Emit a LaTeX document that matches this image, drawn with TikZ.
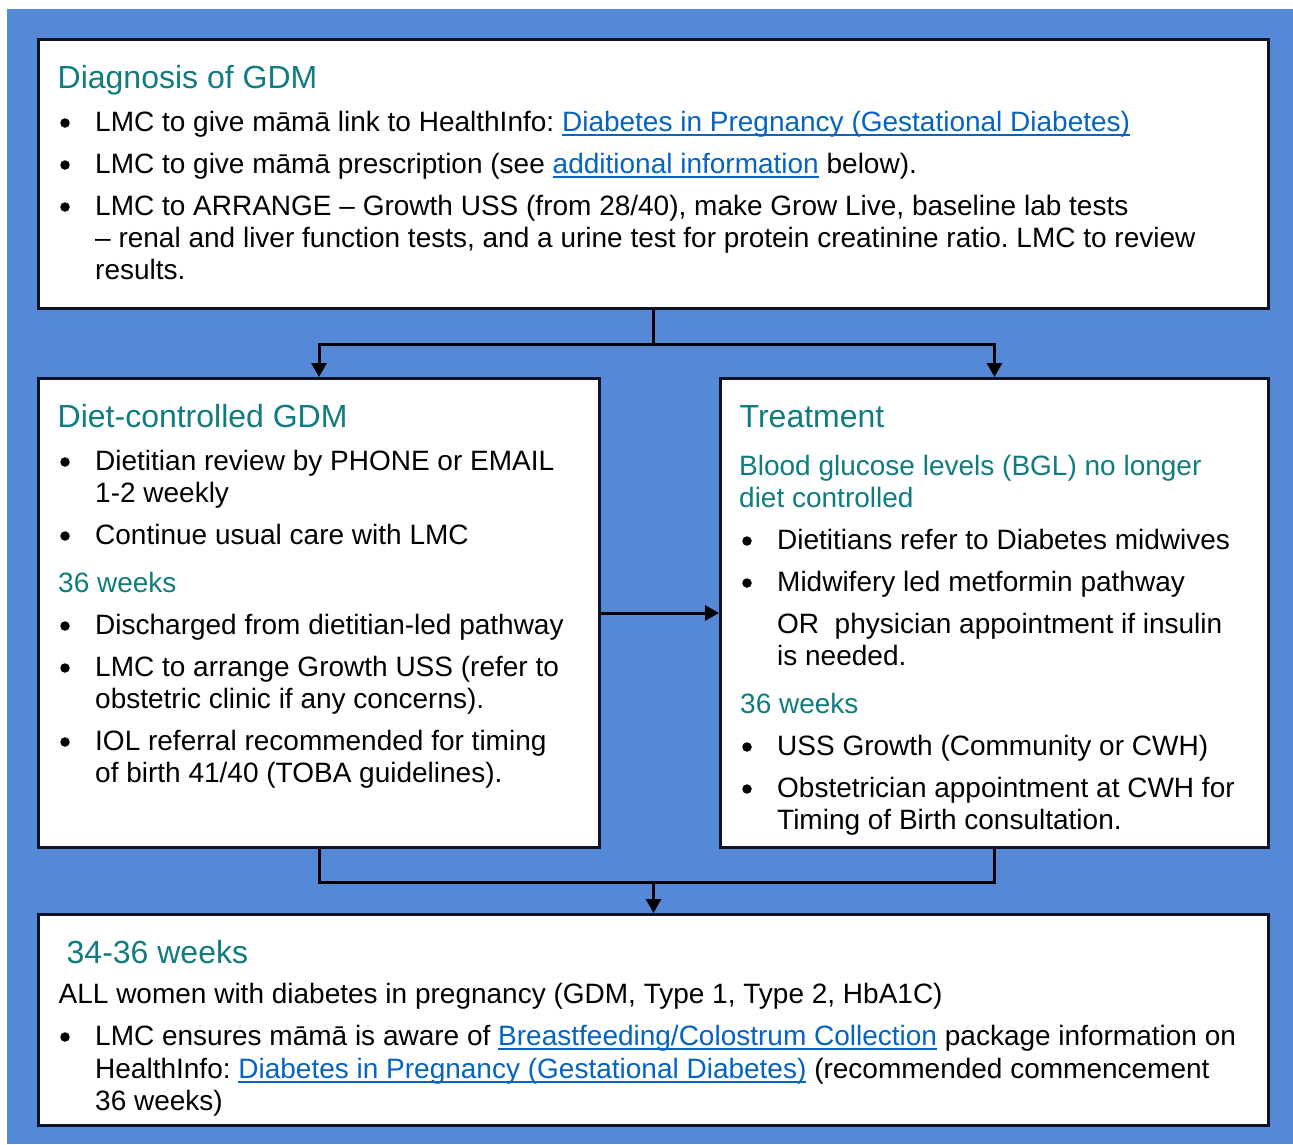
\documentclass[tikz,border=0pt]{standalone}
\usepackage{fontspec}
\setmainfont{Liberation Sans}
\usetikzlibrary{arrows.meta}
\definecolor{bgblue}{RGB}{85,136,214}
\definecolor{tealc}{RGB}{16,124,128}
\definecolor{linkc}{RGB}{5,99,193}
\definecolor{bordc}{RGB}{14,20,38}
\newcommand\mylink[1]{{\color{linkc}\setbox0=\hbox{#1}\rlap{\rule[-4.5pt]{\wd0}{2pt}}\box0}}
\frenchspacing
\begin{document}
\begin{tikzpicture}[x=1pt,y=-1pt,
  box/.style={draw=bordc, line width=3pt, fill=white, rectangle, inner sep=0pt},
  txt/.style={anchor=base west, inner sep=0pt, font=\fontsize{28}{32}\selectfont\frenchspacing},
  sub/.style={txt, text=tealc},
  ttl/.style={anchor=base west, inner sep=0pt, text=tealc, font=\fontsize{32}{37}\selectfont},
  bul/.style={circle, fill=black, inner sep=0pt, minimum size=9.5pt},
  conn/.style={line width=3pt, draw=black},
  arr/.style={conn, -{Triangle[width=15pt,length=14pt]}}]
\useasboundingbox (0,0) rectangle (1293,1144);
\fill[bgblue] (7,9) rectangle (1293,1144);

% boxes
\node[box, minimum width=1230pt, minimum height=269pt] (diag) at (653.5,174) {};
\node[box, minimum width=561pt, minimum height=469pt] (diet) at (319,613) {};
\node[box, minimum width=548pt, minimum height=469pt] (treat) at (994.5,613) {};
\node[box, minimum width=1230pt, minimum height=211pt] (all) at (653.5,1020) {};

% connectors
\draw[conn] (diag.south) -- ++(0,34) coordinate (split);
\draw[arr] (split) -| (diet.north);
\draw[arr] (split) -| (treat.north);
\draw[arr] (diet.east) -- (treat.west);
\draw[conn] (diet.south) -- ++(0,33) coordinate (mL) -| (treat.south);
\coordinate (merge) at (mL -| all.north);
\draw[arr] (merge) -- (all.north);

% Box 1
\node[ttl] (t1) at (57.5,88) {Diagnosis of GDM};
\node[bul] (b11) at (65,123) {};
\node[txt] (l11) at (95,131) {LMC to give māmā link to HealthInfo: \mylink{Diabetes in Pregnancy (Gestational Diabetes)}};
\node[bul] (b12) at (65,165) {};
\node[txt] (l12) at (95,173) {LMC to give māmā prescription (see \mylink{additional information} below).};
\node[bul] (b13) at (65,207) {};
\node[txt] (l13) at (95,215) {LMC to ARRANGE – Growth USS (from 28/40), make Grow Live, baseline lab tests};
\node[txt] (l14) at (95,247) {– renal and liver function tests, and a urine test for protein creatinine ratio. LMC to review};
\node[txt] (l15) at (95,279) {results.};

% Box 2
\node[ttl] (t2) at (57.5,427) {Diet-controlled GDM};
\node[bul] (b21) at (65,462) {};
\node[txt] (l21) at (95,470) {Dietitian review by PHONE or EMAIL};
\node[txt] (l22) at (95,502) {1-2 weekly};
\node[bul] (b22) at (65,536) {};
\node[txt] (l23) at (95,544) {Continue usual care with LMC};
\node[sub] (s21) at (58,592) {36 weeks};
\node[bul] (b23) at (65,626) {};
\node[txt] (l24) at (95,634) {Discharged from dietitian-led pathway};
\node[bul] (b24) at (65,668) {};
\node[txt] (l25) at (95,676) {LMC to arrange Growth USS (refer to};
\node[txt] (l26) at (95,708) {obstetric clinic if any concerns).};
\node[bul] (b25) at (65,742) {};
\node[txt] (l27) at (95,750) {IOL referral recommended for timing};
\node[txt] (l28) at (95,782) {of birth 41/40 (TOBA guidelines).};

% Box 3
\node[ttl] (t3) at (739.5,427) {Treatment};
\node[sub] (s31) at (739,475) {Blood glucose levels (BGL) no longer};
\node[sub] (s32) at (739,507) {diet controlled};
\node[bul] (b31) at (747,541) {};
\node[txt] (l31) at (777,549) {Dietitians refer to Diabetes midwives};
\node[bul] (b32) at (747,583) {};
\node[txt] (l32) at (777,591) {Midwifery led metformin pathway};
\node[txt] (l33) at (777,633) {OR\ \ physician appointment if insulin};
\node[txt] (l34) at (777,665) {is needed.};
\node[sub] (s33) at (740,713) {36 weeks};
\node[bul] (b33) at (747,747) {};
\node[txt] (l35) at (777,755) {USS Growth (Community or CWH)};
\node[bul] (b34) at (747,789) {};
\node[txt] (l36) at (777,797) {Obstetrician appointment at CWH for};
\node[txt] (l37) at (777,829) {Timing of Birth consultation.};

% Box 4
\node[ttl] (t4) at (66.5,963) {34-36 weeks};
\node[txt] (l41) at (58.5,1003) {ALL women with diabetes in pregnancy (GDM, Type 1, Type 2, HbA1C)};
\node[bul] (b41) at (65,1037) {};
\node[txt] (l42) at (95,1045) {LMC ensures māmā is aware of \mylink{Breastfeeding/Colostrum Collection} package information on};
\node[txt] (l43) at (95,1078) {HealthInfo: \mylink{Diabetes in Pregnancy (Gestational Diabetes)} (recommended commencement};
\node[txt] (l44) at (95,1110) {36 weeks)};
\end{tikzpicture}
\end{document}
